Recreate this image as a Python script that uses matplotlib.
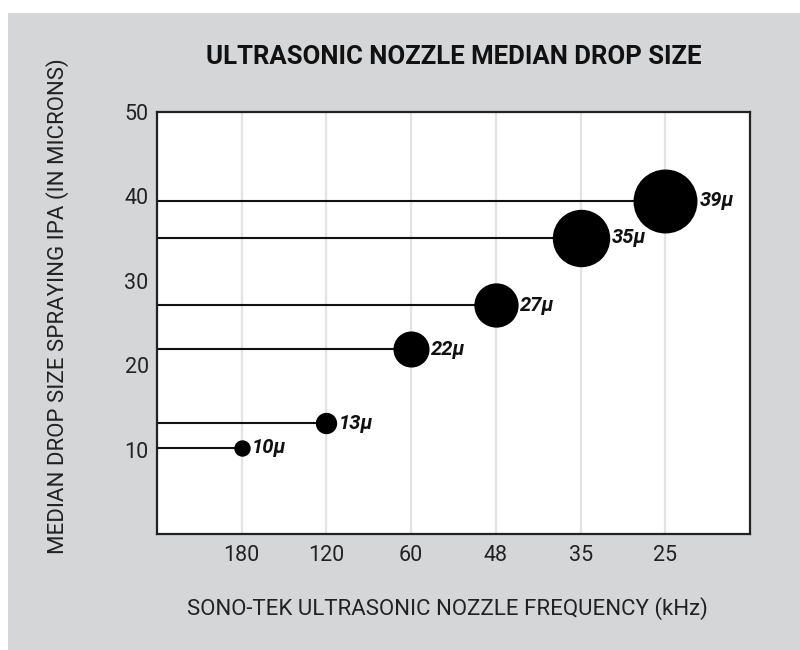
import matplotlib
matplotlib.use("Agg")
import matplotlib.pyplot as plt
from matplotlib.patches import Rectangle

plt.rcParams['font.family'] = ['Roboto', 'DejaVu Sans']

# Data
frequencies = ["180", "120", "60", "48", "35", "25"]
drop_sizes = [10.2, 13.1, 21.9, 27.1, 35.1, 39.5]
drop_labels = ["10μ", "13μ", "22μ", "27μ", "35μ", "39μ"]
nominal_sizes = [10, 13, 22, 27, 35, 39]
y_ticks = [10, 20, 30, 40, 50]

fig = plt.figure(figsize=(8, 6.5), dpi=100)
fig.patch.set_facecolor('white')
fig.patches.append(Rectangle((8 / 800, 0), 1, 1 - 13 / 650, transform=fig.transFigure,
                             facecolor='#d5d6d8', edgecolor='none', zorder=-10))

ax = fig.add_axes([157 / 800, 1 - 534 / 650, (750 - 157) / 800, (534 - 112) / 650])
ax.set_facecolor('white')

xs = list(range(len(frequencies)))
ax.set_xlim(-1, 6)
ax.set_ylim(0, 50)

# vertical grid
for x in xs:
    ax.axvline(x, color='#e3e3e3', lw=1.6, zorder=0)

# horizontal lines from left axis to points
for x, y in zip(xs, drop_sizes):
    ax.plot([-1, x], [y, y], color='#111111', lw=1.5, zorder=2, solid_capstyle='butt')

# circles: diameter in px proportional to drop size
px_per_micron = 1.64
for x, y, n, lab in zip(xs, drop_sizes, nominal_sizes, drop_labels):
    d_px = n * px_per_micron
    d_pt = d_px * 72 / 100
    ax.scatter([x], [y], s=d_pt ** 2, color='black', zorder=3, linewidths=0)
    ax.annotate(lab, (x, y), xytext=(d_pt / 2 + 1.5, 0), textcoords='offset points',
                ha='left', va='center', fontsize=14.5, fontweight='bold', fontstyle='italic',
                color='#111111', zorder=4)

ax.set_xticks(xs)
ax.set_xticklabels(frequencies)
ax.set_yticks(y_ticks)
ax.tick_params(axis='both', length=0, labelsize=15.5, colors='#222222')
ax.tick_params(axis='x', pad=8)
ax.tick_params(axis='y', pad=6)
for sp in ax.spines.values():
    sp.set_color('#222222')
    sp.set_linewidth(1.6)

fig.text(454 / 800, 1 - 57 / 650, "ULTRASONIC NOZZLE MEDIAN DROP SIZE", ha='center', va='center',
         fontsize=18.5, fontweight='bold', color='#111111')
fig.text(447 / 800, 1 - 609 / 650, "SONO-TEK ULTRASONIC NOZZLE FREQUENCY (kHz)", ha='center',
         va='center', fontsize=16, color='#222222')
fig.text(58 / 800, 1 - 306 / 650, "MEDIAN DROP SIZE SPRAYING IPA (IN MICRONS)", ha='center',
         va='center', rotation=90, fontsize=16, color='#222222')

fig.savefig("out.png", dpi=100)
